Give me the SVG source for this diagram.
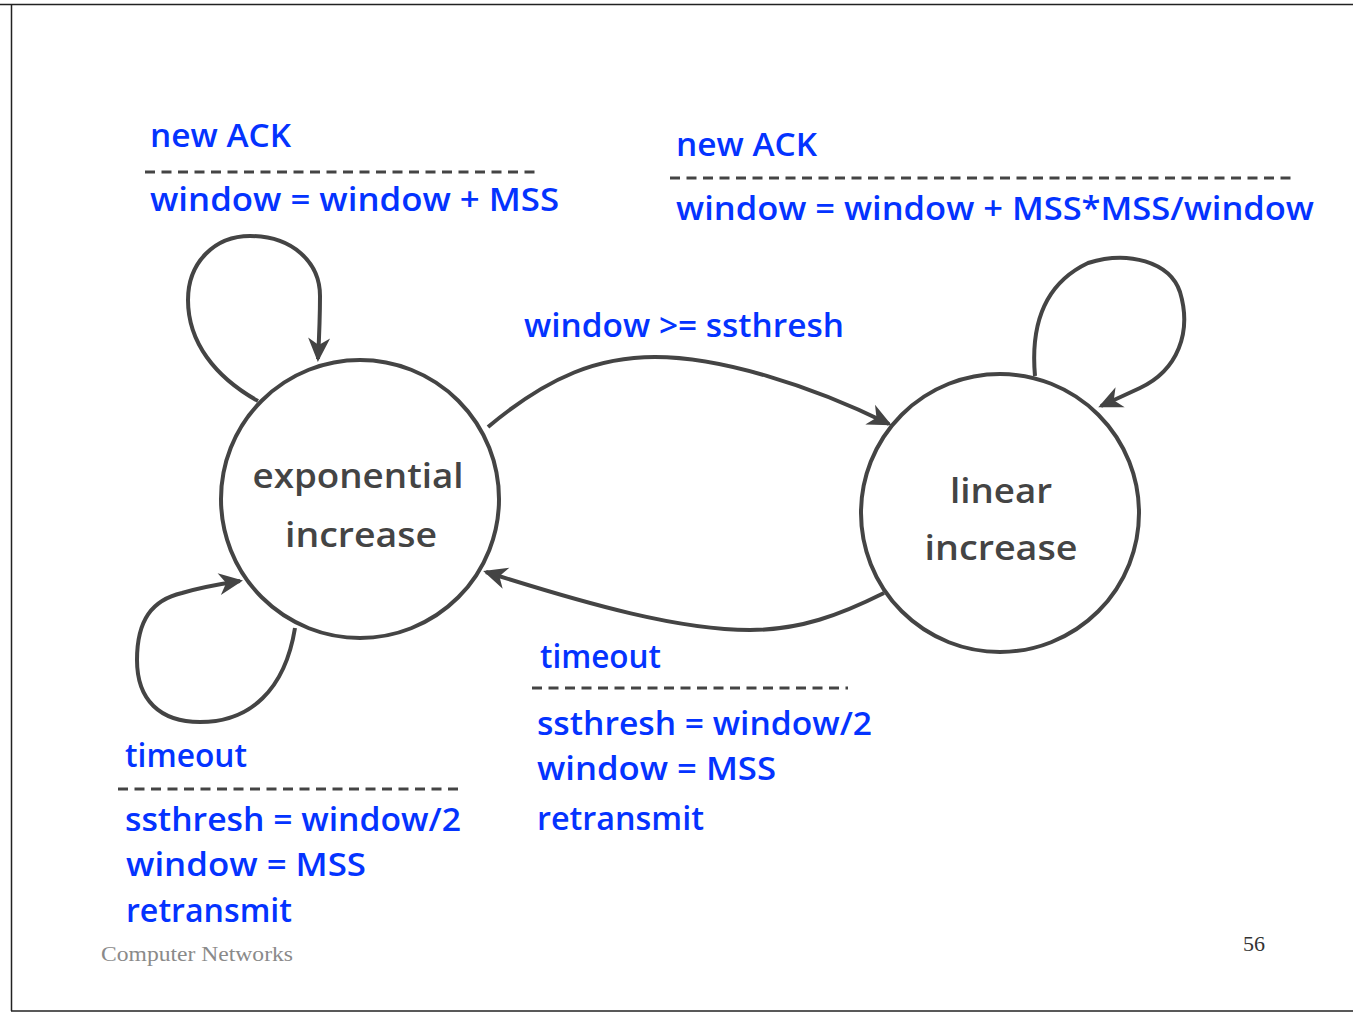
<svg xmlns="http://www.w3.org/2000/svg" width="1353" height="1015" viewBox="0 0 1353 1015">
  <style>
    .lbl { font-family: "Open Sans", "DejaVu Sans", sans-serif; font-weight: 600; font-size: 32px; fill: #0433ff; }
    .state { font-family: "Open Sans", "DejaVu Sans", sans-serif; font-weight: 600; font-size: 35px; fill: #444444; text-anchor: middle; }
    .node { fill: #ffffff; stroke: #444444; stroke-width: 4; }
    .edge { fill: none; stroke: #444444; stroke-width: 4; marker-end: url(#arrow); }
    .dash { stroke: #444444; stroke-width: 3; stroke-dasharray: 10 6.5; }
    .foot { font-family: "Liberation Serif", serif; font-size: 22px; }
    .frame { stroke: #222222; stroke-width: 1.5; fill: none; }
  </style>
  <defs>
    <marker id="arrow" viewBox="-24 -12 28 24" refX="0" refY="0" markerWidth="28" markerHeight="24" markerUnits="userSpaceOnUse" orient="auto">
      <path d="M3,0 L-21,-11 L-14,0 L-21,11 Z" fill="#444444"/>
    </marker>
  </defs>
  <rect width="1353" height="1015" fill="#ffffff"/>
  <g id="frame">
    <line class="frame" x1="0" y1="4.5" x2="1353" y2="4.5"/>
    <line class="frame" x1="11.5" y1="4" x2="11.5" y2="1011"/>
    <line class="frame" x1="11" y1="1011" x2="1353" y2="1011"/>
  </g>
  <g id="connectors">
    <path id="loop-exp-ack" class="edge" d="M258,401 C215,377 188,342 188,300 C188,262 215,236 250,236 C292,236 320,262 320,296 C320,320 319,340 318,359"/>
    <path id="loop-exp-timeout" class="edge" d="M295,628 C285,690 250,722 200,722 C160,722 137,700 137,660 C137,620 152,600 182,593 C202,587 220,584 240,581"/>
    <path id="exp-to-lin" class="edge" d="M488,427 C550,375 600,357 655,357 C720,357 810,385 889,424"/>
    <path id="lin-to-exp" class="edge" d="M884,593 C840,615 800,630 750,630 C680,630 590,605 486,572"/>
    <path id="loop-lin-ack" class="edge" d="M1035,376 C1030,320 1048,282 1088,263 C1128,250 1170,262 1180,292 C1192,332 1178,370 1140,388 C1125,395 1112,401 1101,406"/>
  </g>
  <g id="node-exponential">
    <circle class="node" cx="360" cy="499" r="139"/>
    <text class="state" x="358" y="488" textLength="211" lengthAdjust="spacingAndGlyphs">exponential</text>
    <text class="state" x="361" y="547" textLength="152" lengthAdjust="spacingAndGlyphs">increase</text>
  </g>
  <g id="node-linear">
    <circle class="node" cx="1000" cy="513" r="139"/>
    <text class="state" x="1001" y="503" textLength="102" lengthAdjust="spacingAndGlyphs">linear</text>
    <text class="state" x="1001" y="560" textLength="153" lengthAdjust="spacingAndGlyphs">increase</text>
  </g>
  <g id="label-exp-ack">
    <text class="lbl" x="150" y="147" textLength="141" lengthAdjust="spacingAndGlyphs">new ACK</text>
    <line class="dash" x1="145" y1="172" x2="540" y2="172"/>
    <text class="lbl" x="150" y="211" textLength="409" lengthAdjust="spacingAndGlyphs">window = window + MSS</text>
  </g>
  <g id="label-lin-ack">
    <text class="lbl" x="676" y="156" textLength="141" lengthAdjust="spacingAndGlyphs">new ACK</text>
    <line class="dash" x1="670" y1="178" x2="1295" y2="178"/>
    <text class="lbl" x="676" y="220" textLength="638" lengthAdjust="spacingAndGlyphs">window = window + MSS*MSS/window</text>
  </g>
  <g id="label-exp-to-lin">
    <text class="lbl" x="524" y="337" textLength="320" lengthAdjust="spacingAndGlyphs">window &gt;= ssthresh</text>
  </g>
  <g id="label-lin-to-exp">
    <text class="lbl" x="540" y="668" textLength="121" lengthAdjust="spacingAndGlyphs">timeout</text>
    <line class="dash" x1="532" y1="688" x2="848" y2="688"/>
    <text class="lbl" x="537" y="735" textLength="335" lengthAdjust="spacingAndGlyphs">ssthresh = window/2</text>
    <text class="lbl" x="537" y="780" textLength="239" lengthAdjust="spacingAndGlyphs">window = MSS</text>
    <text class="lbl" x="537" y="830" textLength="167" lengthAdjust="spacingAndGlyphs">retransmit</text>
  </g>
  <g id="label-exp-timeout">
    <text class="lbl" x="125" y="767" textLength="122" lengthAdjust="spacingAndGlyphs">timeout</text>
    <line class="dash" x1="118" y1="789" x2="458" y2="789"/>
    <text class="lbl" x="125" y="831" textLength="336" lengthAdjust="spacingAndGlyphs">ssthresh = window/2</text>
    <text class="lbl" x="126" y="876" textLength="240" lengthAdjust="spacingAndGlyphs">window = MSS</text>
    <text class="lbl" x="126" y="922" textLength="166" lengthAdjust="spacingAndGlyphs">retransmit</text>
  </g>
  <g id="footer">
    <text class="foot" x="101" y="961" fill="#8a8a8a" textLength="192" lengthAdjust="spacingAndGlyphs">Computer Networks</text>
    <text class="foot" x="1243" y="951" fill="#333333">56</text>
  </g>
</svg>
